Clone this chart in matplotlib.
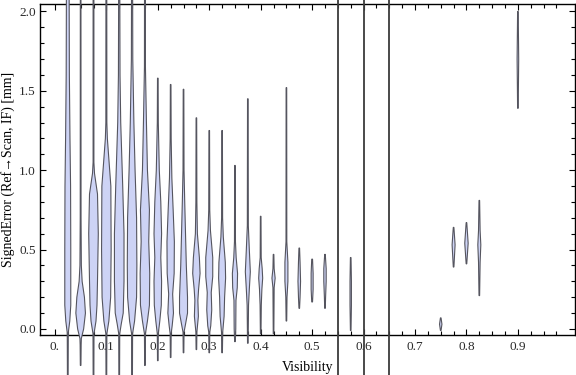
import numpy as np
import matplotlib.pyplot as plt
from matplotlib.ticker import FixedLocator, MultipleLocator

plt.rcParams['font.family'] = ['Liberation Serif', 'DejaVu Serif']

# violin centres (Visibility) and their outlines:
# y knots (mm) and half widths (pixels) of the density at those knots
positions = [0.025, 0.05, 0.075, 0.1, 0.125, 0.15, 0.175, 0.2, 0.225, 0.25,
             0.275, 0.3, 0.325, 0.35, 0.375, 0.4, 0.425, 0.45, 0.475, 0.5,
             0.525, 0.575, 0.75, 0.775, 0.8, 0.825, 0.9]

profile_y = [
    [2.3, 1.6, 1.2, 0.9, 0.5, 0.15, 0.05, -0.02, -0.05, -0.4],
    [2.3, 0.7, 0.4, 0.3, 0.2, 0.1, 0.0, -0.06, -0.1, -0.23],
    [2.3, 1.05, 0.98, 0.85, 0.6, 0.3, 0.15, 0.05, -0.03, -0.4],
    [2.3, 1.3, 1.2, 0.9, 0.5, 0.2, 0.05, -0.03, -0.4],
    [2.3, 1.6, 1.3, 0.9, 0.6, 0.3, 0.1, 0.03, -0.03, -0.4],
    [2.3, 1.7, 1.3, 1.0, 0.7, 0.4, 0.2, 0.05, -0.03, -0.4],
    [2.3, 1.65, 1.3, 1.0, 0.75, 0.55, 0.35, 0.15, 0.05, -0.03, -0.23],
    [1.58, 1.3, 1.0, 0.8, 0.6, 0.45, 0.3, 0.15, 0.05, -0.03, -0.2],
    [1.54, 1.2, 0.95, 0.75, 0.55, 0.35, 0.22, 0.1, 0.02, -0.03, -0.18],
    [1.51, 1.0, 0.8, 0.6, 0.4, 0.2, 0.1, 0.03, -0.02, -0.15],
    [1.33, 0.8, 0.6, 0.45, 0.35, 0.25, 0.18, 0.08, -0.02, -0.13],
    [1.25, 0.75, 0.62, 0.45, 0.33, 0.23, 0.12, 0.02, -0.02, -0.15],
    [1.25, 0.7, 0.58, 0.42, 0.32, 0.2, 0.08, -0.02, -0.15],
    [1.03, 0.55, 0.45, 0.35, 0.26, 0.18, 0.0, -0.08],
    [1.45, 0.65, 0.5, 0.36, 0.25, 0.15, -0.09],
    [0.71, 0.45, 0.38, 0.32, 0.25, 0.15, -0.03],
    [0.47, 0.38, 0.32, 0.26, -0.03],
    [1.52, 0.55, 0.42, 0.3, 0.2, 0.05],
    [0.51, 0.42, 0.3, 0.2, 0.13],
    [0.44, 0.35, 0.25, 0.17],
    [0.47, 0.38, 0.3, 0.2, 0.13],
    [0.45, 0.3, 0.15, -0.01],
    [0.07, 0.03, -0.01],
    [0.64, 0.53, 0.39],
    [0.67, 0.54, 0.41],
    [0.81, 0.62, 0.53, 0.42, 0.21],
    [2.0, 1.7, 1.39],
]

profile_w = [
    [1.3, 1.6, 2.2, 2.8, 3.0, 3.0, 2.0, 0.6, 0.5, 0.3],
    [0.3, 0.4, 0.7, 1.5, 3.8, 4.8, 3.0, 0.7, 0.5, 0.3],
    [0.4, 0.4, 1.0, 4.0, 4.8, 4.0, 3.5, 2.5, 0.5, 0.3],
    [0.4, 0.5, 1.0, 4.5, 4.8, 4.3, 2.5, 0.5, 0.3],
    [0.5, 0.8, 1.5, 3.5, 4.8, 4.8, 4.0, 2.0, 0.5, 0.3],
    [0.5, 0.7, 1.8, 3.0, 4.5, 4.8, 4.5, 2.5, 0.5, 0.3],
    [0.4, 0.5, 1.5, 2.5, 4.5, 3.8, 4.8, 4.5, 2.5, 0.5, 0.3],
    [0.3, 0.5, 1.5, 3.0, 3.8, 3.0, 3.8, 3.5, 2.0, 0.5, 0.3],
    [0.3, 0.5, 1.2, 2.5, 3.7, 3.5, 2.0, 2.8, 1.5, 0.5, 0.3],
    [0.3, 0.5, 1.2, 2.0, 2.8, 4.0, 4.0, 2.0, 0.5, 0.3],
    [0.3, 0.5, 1.0, 3.0, 3.7, 2.2, 1.5, 2.0, 0.5, 0.3],
    [0.3, 0.5, 1.2, 3.5, 3.5, 2.0, 2.5, 1.5, 0.5, 0.3],
    [0.3, 0.5, 1.2, 3.2, 3.5, 2.5, 2.0, 0.6, 0.3],
    [0.3, 0.5, 1.2, 2.6, 2.3, 1.0, 0.8, 0.3],
    [0.3, 0.5, 1.5, 2.5, 1.5, 0.7, 0.3],
    [0.3, 0.5, 1.5, 2.0, 1.2, 0.6, 0.3],
    [0.3, 0.6, 1.6, 0.6, 0.3],
    [0.3, 0.4, 1.5, 1.5, 0.6, 0.3],
    [0.3, 0.8, 1.3, 0.8, 0.3],
    [0.4, 1.0, 1.0, 0.4],
    [0.3, 1.2, 1.2, 0.6, 0.3],
    [0.3, 0.7, 0.7, 0.3],
    [0.3, 1.2, 0.3],
    [0.3, 1.5, 0.3],
    [0.3, 1.7, 0.3],
    [0.3, 0.8, 1.5, 0.8, 0.3],
    [0.3, 0.8, 0.3],
]

# violins that run over the whole height
full_lines = [0.55, 0.6, 0.65]

x_labels = ["0.", "0.1", "0.2", "0.3", "0.4", "0.5", "0.6", "0.7", "0.8", "0.9"]

fill_col = '#cdd3f5'
edge_col = '#55555f'
PX = 0.00194  # one pixel in Visibility units

fig = plt.figure(figsize=(5.76, 3.75), dpi=100)
ax = fig.add_axes([40/576, 40/375, 535/576, 331/375])
ax.set_xlim(-0.029, 1.011)
ax.set_ylim(-0.038, 2.047)

for pos, ys, ws in zip(positions, profile_y, profile_w):
    ys = np.array(ys)
    ws = np.array(ws) * PX
    xs = np.concatenate([pos + ws, (pos - ws)[::-1]])
    yy = np.concatenate([ys, ys[::-1]])
    ax.fill(xs, yy, facecolor=fill_col, edgecolor=edge_col, lw=0.8,
            clip_on=False, zorder=3)

for pos in full_lines:
    ax.plot([pos, pos], [-0.4, 2.3], color='#3c3c3c', lw=1.3,
            clip_on=False, zorder=3, solid_capstyle='butt')

ax.xaxis.set_major_locator(FixedLocator(np.arange(10) * 0.1))
ax.set_xticklabels(x_labels)
ax.xaxis.set_minor_locator(FixedLocator(np.arange(40) * 0.025))
ax.yaxis.set_major_locator(MultipleLocator(0.5))
ax.yaxis.set_minor_locator(MultipleLocator(0.1))
ax.yaxis.set_major_formatter(plt.FormatStrFormatter('%.1f'))

ax.tick_params(which='both', direction='in', top=True, right=True,
               labelsize=9.5, labelcolor='#2a2a2a', width=0.8)
ax.tick_params(which='major', length=4.5)
ax.tick_params(which='minor', length=3)
ax.tick_params(axis='x', pad=4)
ax.tick_params(axis='y', pad=3)
for s in ax.spines.values():
    s.set_linewidth(1.0)

ax.set_xlabel('Visibility', fontsize=10, labelpad=6)
ax.set_ylabel('SignedError (Ref\u2192Scan, IF) [mm]', fontsize=10, labelpad=3)

fig.savefig('out.png', dpi=100)
